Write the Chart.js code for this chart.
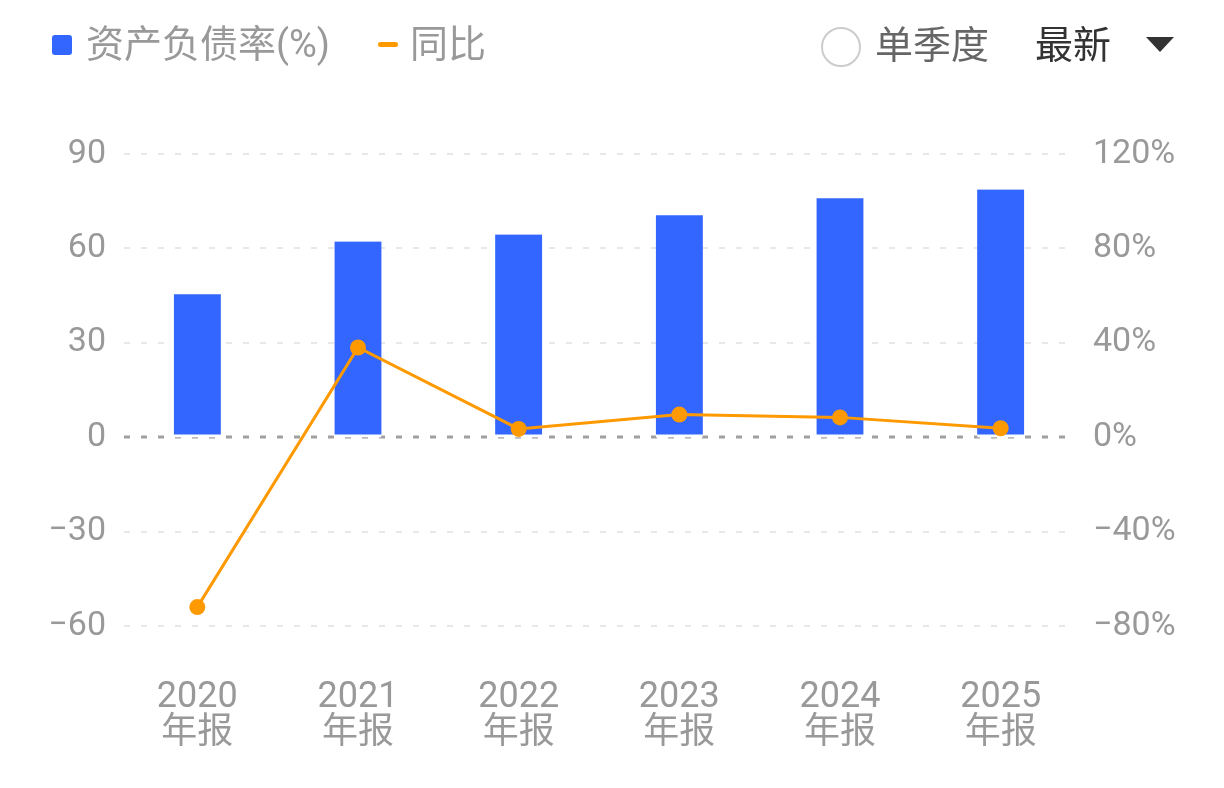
<!DOCTYPE html>
<html>
<head>
<meta charset="utf-8">
<script src="https://cdn.jsdelivr.net/npm/chart.js@4/dist/chart.umd.min.js"></script>
<style>
  body { margin: 0; background: #fff; font-family: Roboto, "Noto Sans CJK SC", sans-serif; }
  #wrap { position: relative; width: 1224px; height: 788px; overflow: hidden; }
  #chartBox { position: absolute; left: 0; top: 0; width: 1224px; height: 788px; }
  .hd { position: absolute; font-size: 38px; line-height: 44px; white-space: nowrap; }
  .sq { position: absolute; left: 52px; top: 35px; width: 20px; height: 20px; background: #3366ff; border-radius: 3px; }
  .dash { position: absolute; left: 378px; top: 42px; width: 20px; height: 5px; background: #ff9900; border-radius: 3px; }
  .circ { position: absolute; left: 821px; top: 27px; width: 36px; height: 36px; border: 2px solid #cccccc; border-radius: 50%; }
  .tri { position: absolute; left: 1146px; top: 37px; width: 0; height: 0;
         border-left: 14px solid transparent; border-right: 14px solid transparent; border-top: 15px solid #333; }
</style>
</head>
<body>
<div id="wrap">
  <div id="chartBox"><canvas id="debtChart"></canvas></div>
  <div class="sq"></div>
  <div class="hd" style="left:86px;top:22px;color:#999;">资产负债率(%)</div>
  <div class="dash"></div>
  <div class="hd" style="left:410px;top:22px;color:#999;">同比</div>
  <div class="circ"></div>
  <div class="hd" style="left:875px;top:23px;color:#666;">单季度</div>
  <div class="hd" style="left:1035px;top:23px;color:#333;">最新</div>
  <div class="tri"></div>
</div>
<script>
// chart data
const years = ['2020', '2021', '2022', '2023', '2024', '2025']
const debtRatio = [45.4, 62.2, 64.4, 70.5, 75.9, 78.7]
const yoyChange = [-72.0, 38.0, 3.5, 9.6, 8.4, 3.8]
const leftTicks = [-60, -30, 0, 30, 60, 90]
const rightTicks = [-80, -40, 0, 40, 80, 120]

const labels = years.map(y => [y, '年报'])
const tickFont = { family: 'Roboto, "Noto Sans CJK SC", sans-serif', size: 34 }
const minus = v => String(v).replace('-', '\u2212')

// dashed horizontal grid, a bit inset from the plot edges
const gridPlugin = {
    id: 'dashGrid',
    beforeDatasetsDraw(chart) {
        const { ctx, chartArea, scales } = chart
        const x0 = chartArea.left + 7
        const x1 = chartArea.right - 8
        ctx.save()
        ctx.setLineDash([6, 11])
        leftTicks.forEach(v => {
            const y = Math.round(scales.y.getPixelForValue(v))
            ctx.strokeStyle = v === 0 ? '#a0a0a0' : '#e8e8e8'
            ctx.lineWidth = v === 0 ? 3 : 2
            ctx.beginPath()
            ctx.moveTo(x0, y)
            ctx.lineTo(x1, y)
            ctx.stroke()
        })
        ctx.restore()
    }
}

new Chart(document.getElementById('debtChart'), {
    data: {
        labels: labels,
        datasets: [
            {
                type: 'line',
                label: '同比',
                data: yoyChange,
                yAxisID: 'y1',
                borderColor: '#ff9900',
                backgroundColor: '#ff9900',
                borderWidth: 3,
                pointRadius: 8,
                pointBorderWidth: 0,
                pointBackgroundColor: '#ff9900',
                tension: 0,
                order: 0
            },
            {
                type: 'bar',
                label: '资产负债率(%)',
                data: debtRatio,
                yAxisID: 'y',
                backgroundColor: '#3366ff',
                borderColor: '#ffffff',
                borderWidth: { top: 0, left: 0, right: 0, bottom: 3 },
                borderSkipped: false,
                barThickness: 47,
                order: 1
            }
        ]
    },
    options: {
        responsive: true,
        maintainAspectRatio: false,
        animation: false,
        layout: { padding: { top: 154, bottom: 0, left: 0, right: 0 } },
        plugins: {
            legend: { display: false },
            tooltip: { enabled: false }
        },
        scales: {
            x: {
                grid: { display: false, drawTicks: false },
                border: { display: false },
                ticks: {
                    color: '#999',
                    font: { family: tickFont.family, size: 36, lineHeight: 1.0 },
                    padding: 54,
                    maxRotation: 0
                },
                afterFit: s => { s.height = 162 }
            },
            y: {
                position: 'left',
                min: -60,
                max: 90,
                afterBuildTicks: s => { s.ticks = leftTicks.map(v => ({ value: v })) },
                grid: { display: false, drawTicks: false },
                border: { display: false },
                ticks: { color: '#999', font: tickFont, padding: 11, callback: v => minus(v) },
                afterFit: s => { s.width = 117 }
            },
            y1: {
                position: 'right',
                min: -80,
                max: 120,
                afterBuildTicks: s => { s.ticks = rightTicks.map(v => ({ value: v })) },
                grid: { display: false, drawTicks: false },
                border: { display: false },
                ticks: { color: '#999', font: tickFont, padding: 12, callback: v => minus(v) + '%' },
                afterFit: s => { s.width = 143 }
            }
        }
    },
    plugins: [gridPlugin]
})
</script>
</body>
</html>
